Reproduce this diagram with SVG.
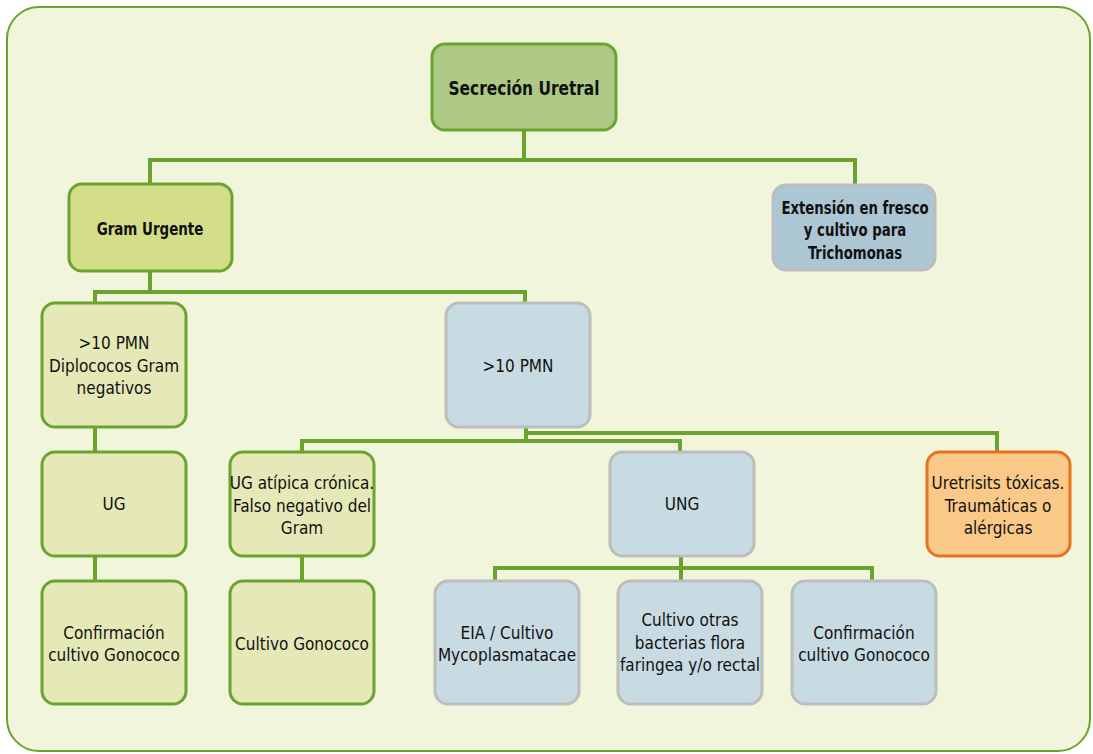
<svg xmlns="http://www.w3.org/2000/svg" width="1093" height="754" viewBox="0 0 1093 754">
<style>
.frame{fill:#f0f5dc;stroke:#6aa42e;stroke-width:2}
.n rect{stroke-width:3}
.g rect{fill:#e5e9b7;stroke:#6aa42e}
.b rect{fill:#c8dae2;stroke:#bdbdbd}
.t{font-family:"Liberation Sans Narrow","DejaVu Sans Condensed","Liberation Sans",sans-serif;font-size:17px;fill:#111;text-anchor:middle;dominant-baseline:central}
.bold{font-weight:bold}
#conn path{fill:none;stroke:#6aa42e;stroke-width:4}
</style>
<rect class="frame" x="7" y="7" width="1083" height="744" rx="32"/>
<g id="conn">
<path d="M524 130V160M150 184V160H855V185"/>
<path d="M150 271V292M95 303V292H525V303"/>
<path d="M95 427V452M95 556V581"/>
<path d="M526 427V441M526 433H997V452M302 452V441H680V452"/>
<path d="M302 556V581"/>
<path d="M681 556V581M495 581V568H872V581"/>
</g>
<g id="n-secrecion" class="n"><rect x="432" y="44" width="184" height="86" rx="13" fill="#adc985" stroke="#6aa42e"/><text class="t bold" transform="translate(524 88) scale(0.9 1)" style="font-size:19px">Secreción Uretral</text></g>
<g id="n-gram" class="n"><rect x="69" y="184" width="163" height="87" rx="13" fill="#d4de88" stroke="#6aa42e"/><text class="t bold" transform="translate(150 229) scale(0.83 1)" style="font-size:18px">Gram Urgente</text></g>
<g id="n-extension" class="n"><rect x="773" y="185" width="162" height="85" rx="13" fill="#adc6d4" stroke="#bdbdbd"/><text class="t bold" transform="translate(855 229) scale(0.82 1)" style="font-size:18px"><tspan x="0" y="-22">Extensión en fresco</tspan><tspan x="0" y="0">y cultivo para</tspan><tspan x="0" y="23">Trichomonas</tspan></text></g>
<g id="n-diplococos" class="n g"><rect x="42" y="303" width="144" height="124" rx="13"/><text class="t"><tspan x="114" y="343">&gt;10 PMN</tspan><tspan x="114" y="366">Diplococos Gram</tspan><tspan x="114" y="388">negativos</tspan></text></g>
<g id="n-pmn" class="n b"><rect x="446" y="303" width="144" height="124" rx="13"/><text class="t" x="518" y="366">&gt;10 PMN</text></g>
<g id="n-ug" class="n g"><rect x="42" y="452" width="144" height="104" rx="13"/><text class="t" x="114" y="504">UG</text></g>
<g id="n-ugatipica" class="n g"><rect x="230" y="452" width="144" height="104" rx="13"/><text class="t"><tspan x="302" y="483">UG atípica crónica.</tspan><tspan x="302" y="506">Falso negativo del</tspan><tspan x="302" y="528">Gram</tspan></text></g>
<g id="n-ung" class="n b"><rect x="610" y="452" width="144" height="104" rx="13"/><text class="t" x="682" y="504">UNG</text></g>
<g id="n-uretritis" class="n"><rect x="927" y="452" width="143" height="104" rx="13" fill="#fbc987" stroke="#e8721e"/><text class="t"><tspan x="998" y="483">Uretrisits tóxicas.</tspan><tspan x="998" y="506">Traumáticas o</tspan><tspan x="998" y="528">alérgicas</tspan></text></g>
<g id="n-conf1" class="n g"><rect x="42" y="581" width="144" height="123" rx="13"/><text class="t"><tspan x="114" y="633">Confirmación</tspan><tspan x="114" y="655">cultivo Gonococo</tspan></text></g>
<g id="n-cultgono" class="n g"><rect x="230" y="581" width="144" height="123" rx="13"/><text class="t" x="302" y="644">Cultivo Gonococo</text></g>
<g id="n-eia" class="n b"><rect x="435" y="581" width="144" height="123" rx="13"/><text class="t"><tspan x="507" y="633">EIA / Cultivo</tspan><tspan x="507" y="655">Mycoplasmatacae</tspan></text></g>
<g id="n-otras" class="n b"><rect x="618" y="581" width="144" height="123" rx="13"/><text class="t"><tspan x="690" y="620">Cultivo otras</tspan><tspan x="690" y="643">bacterias flora</tspan><tspan x="690" y="665">faringea y/o rectal</tspan></text></g>
<g id="n-conf2" class="n b"><rect x="792" y="581" width="144" height="123" rx="13"/><text class="t"><tspan x="864" y="633">Confirmación</tspan><tspan x="864" y="655">cultivo Gonococo</tspan></text></g>
</svg>
